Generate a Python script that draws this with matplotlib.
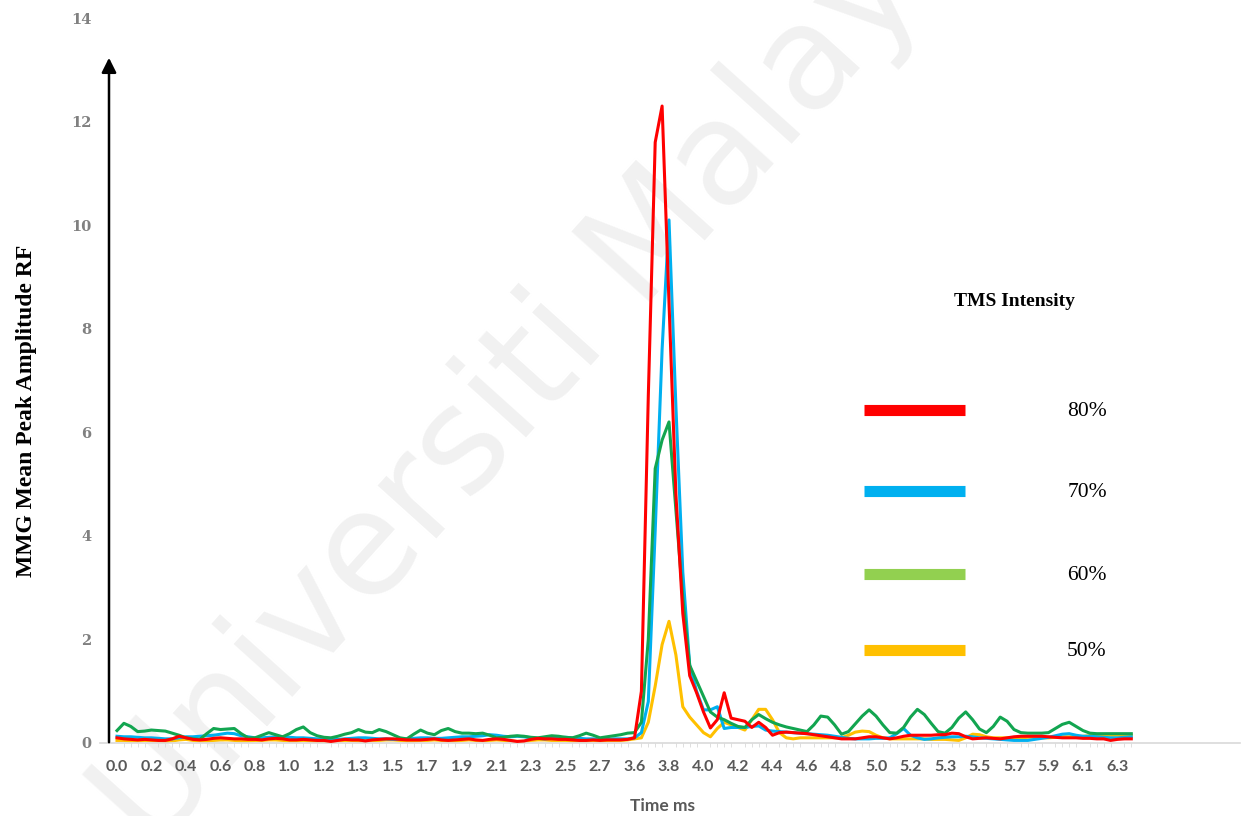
import numpy as np
import matplotlib
matplotlib.use('Agg')
import matplotlib.pyplot as plt
from matplotlib.lines import Line2D

# Tick labels as printed under the axis (one label every 5 samples)
tick_labels = ['0.0', '0.2', '0.4', '0.6', '0.8', '1.0', '1.2', '1.3', '1.5', '1.7',
               '1.9', '2.1', '2.3', '2.5', '2.7', '3.6', '3.8', '4.0', '4.2', '4.4',
               '4.6', '4.8', '5.0', '5.2', '5.3', '5.5', '5.7', '5.9', '6.1', '6.3']
label_step = 5

# MMG mean peak amplitude, 148 samples per TMS intensity
amp_80 = [0.10, 0.08, 0.07, 0.06, 0.07, 0.06, 0.05, 0.05, 0.08, 0.13,
          0.10, 0.07, 0.06, 0.07, 0.09, 0.10, 0.09, 0.08, 0.08, 0.07,
          0.07, 0.06, 0.08, 0.09, 0.08, 0.06, 0.06, 0.07, 0.06, 0.05,
          0.05, 0.03, 0.05, 0.07, 0.06, 0.06, 0.04, 0.06, 0.07, 0.08,
          0.08, 0.07, 0.06, 0.06, 0.06, 0.07, 0.08, 0.06, 0.05, 0.06,
          0.07, 0.08, 0.06, 0.05, 0.07, 0.08, 0.07, 0.05, 0.03, 0.04,
          0.07, 0.09, 0.08, 0.08, 0.07, 0.07, 0.06, 0.05, 0.05, 0.06,
          0.05, 0.06, 0.06, 0.06, 0.07, 0.10, 1.00, 6.70, 11.60, 12.30,
          8.50, 4.80, 2.50, 1.30, 0.97, 0.60, 0.29, 0.45, 0.97, 0.48,
          0.45, 0.42, 0.30, 0.40, 0.30, 0.15, 0.20, 0.21, 0.20, 0.19,
          0.18, 0.16, 0.14, 0.12, 0.10, 0.08, 0.08, 0.08, 0.10, 0.12,
          0.12, 0.10, 0.08, 0.10, 0.13, 0.15, 0.15, 0.15, 0.15, 0.16,
          0.16, 0.19, 0.18, 0.12, 0.08, 0.09, 0.10, 0.09, 0.08, 0.10,
          0.12, 0.13, 0.13, 0.13, 0.13, 0.12, 0.11, 0.10, 0.10, 0.10,
          0.09, 0.09, 0.08, 0.08, 0.05, 0.07, 0.08, 0.08]

amp_70 = [0.13, 0.12, 0.12, 0.11, 0.10, 0.10, 0.09, 0.08, 0.08, 0.10,
          0.12, 0.12, 0.13, 0.14, 0.15, 0.17, 0.19, 0.18, 0.14, 0.12,
          0.10, 0.10, 0.11, 0.12, 0.12, 0.11, 0.10, 0.10, 0.09, 0.08,
          0.08, 0.07, 0.07, 0.08, 0.09, 0.10, 0.10, 0.09, 0.08, 0.08,
          0.07, 0.07, 0.08, 0.09, 0.10, 0.10, 0.09, 0.09, 0.10, 0.11,
          0.12, 0.12, 0.13, 0.14, 0.16, 0.15, 0.13, 0.12, 0.13, 0.12,
          0.10, 0.09, 0.08, 0.09, 0.10, 0.11, 0.10, 0.09, 0.08, 0.08,
          0.07, 0.07, 0.08, 0.08, 0.08, 0.10, 0.20, 0.80, 4.10, 7.60,
          10.10, 6.50, 3.30, 1.50, 1.00, 0.64, 0.64, 0.70, 0.28, 0.30,
          0.30, 0.30, 0.32, 0.33, 0.25, 0.23, 0.22, 0.21, 0.20, 0.19,
          0.18, 0.17, 0.16, 0.15, 0.13, 0.11, 0.09, 0.08, 0.08, 0.08,
          0.09, 0.09, 0.10, 0.18, 0.28, 0.15, 0.10, 0.07, 0.08, 0.10,
          0.11, 0.12, 0.12, 0.13, 0.12, 0.10, 0.09, 0.08, 0.07, 0.06,
          0.05, 0.05, 0.05, 0.07, 0.09, 0.11, 0.14, 0.17, 0.18, 0.15,
          0.13, 0.13, 0.12, 0.11, 0.10, 0.10, 0.11, 0.12]

amp_60 = [0.24, 0.38, 0.32, 0.22, 0.23, 0.25, 0.24, 0.23, 0.19, 0.15,
          0.10, 0.08, 0.07, 0.18, 0.28, 0.26, 0.27, 0.28, 0.18, 0.10,
          0.10, 0.15, 0.20, 0.16, 0.12, 0.18, 0.26, 0.31, 0.20, 0.14,
          0.11, 0.10, 0.13, 0.17, 0.20, 0.26, 0.21, 0.20, 0.26, 0.22,
          0.16, 0.10, 0.08, 0.17, 0.25, 0.19, 0.16, 0.24, 0.28, 0.22,
          0.19, 0.19, 0.18, 0.19, 0.15, 0.10, 0.11, 0.13, 0.14, 0.13,
          0.11, 0.10, 0.12, 0.14, 0.13, 0.11, 0.10, 0.14, 0.19, 0.15,
          0.10, 0.12, 0.14, 0.16, 0.19, 0.20, 0.40, 2.00, 5.30, 5.85,
          6.20, 4.50, 2.80, 1.50, 1.20, 0.90, 0.60, 0.50, 0.45, 0.38,
          0.32, 0.30, 0.45, 0.55, 0.47, 0.40, 0.35, 0.31, 0.28, 0.25,
          0.22, 0.35, 0.52, 0.50, 0.35, 0.17, 0.22, 0.37, 0.52, 0.64,
          0.52, 0.35, 0.20, 0.19, 0.30, 0.50, 0.65, 0.55, 0.38, 0.22,
          0.19, 0.30, 0.48, 0.60, 0.45, 0.27, 0.20, 0.32, 0.50, 0.42,
          0.26, 0.20, 0.19, 0.19, 0.19, 0.20, 0.28, 0.36, 0.40, 0.32,
          0.24, 0.19, 0.18, 0.18, 0.18, 0.18, 0.18, 0.18]

amp_50 = [0.05, 0.05, 0.04, 0.04, 0.05, 0.05, 0.04, 0.03, 0.04, 0.06,
          0.07, 0.05, 0.04, 0.04, 0.05, 0.06, 0.06, 0.05, 0.04, 0.04,
          0.05, 0.05, 0.06, 0.06, 0.05, 0.04, 0.04, 0.05, 0.04, 0.03,
          0.03, 0.03, 0.04, 0.05, 0.05, 0.04, 0.04, 0.05, 0.05, 0.06,
          0.06, 0.05, 0.04, 0.04, 0.05, 0.05, 0.06, 0.05, 0.04, 0.04,
          0.05, 0.06, 0.05, 0.04, 0.05, 0.06, 0.05, 0.04, 0.03, 0.03,
          0.05, 0.06, 0.06, 0.05, 0.05, 0.05, 0.04, 0.04, 0.04, 0.05,
          0.04, 0.05, 0.05, 0.05, 0.06, 0.08, 0.10, 0.40, 1.10, 1.90,
          2.35, 1.70, 0.70, 0.50, 0.35, 0.20, 0.12, 0.28, 0.40, 0.35,
          0.30, 0.25, 0.45, 0.65, 0.65, 0.45, 0.20, 0.10, 0.08, 0.10,
          0.10, 0.10, 0.10, 0.10, 0.10, 0.10, 0.15, 0.21, 0.23, 0.22,
          0.15, 0.10, 0.08, 0.08, 0.08, 0.08, 0.08, 0.08, 0.07, 0.07,
          0.07, 0.06, 0.05, 0.10, 0.17, 0.16, 0.12, 0.10, 0.10, 0.10,
          0.10, 0.10, 0.11, 0.11, 0.10, 0.10, 0.11, 0.12, 0.12, 0.12,
          0.13, 0.14, 0.15, 0.15, 0.15, 0.15, 0.15, 0.15]

series = [('50%', amp_50, '#FFC000', '#FFC000'),
          ('70%', amp_70, '#00B0F0', '#00B0F0'),
          ('60%', amp_60, '#12A550', '#92D050'),
          ('80%', amp_80, '#FF0000', '#FF0000')]
legend_order = ['80%', '70%', '60%', '50%']

W, H = 1243, 816


def px(x, y):
    # pixel position in the figure -> figure fraction
    return x / W, 1 - y / H


fig = plt.figure(figsize=(W / 100, H / 100), dpi=100)
fig.patch.set_facecolor('white')

# faint watermark behind everything
fig.text(*px(540, 365), 'Universiti Malaya', rotation=48, fontsize=104,
         color='#f1f1f1', ha='center', va='center', family='DejaVu Sans', zorder=-5)

ax = fig.add_axes([100 / W, (H - 743) / H, 1140 / W, 725 / H])
ax.patch.set_alpha(0)

n = len(amp_80)
x = np.arange(n)
for i, (name, vals, col, _) in enumerate(series):
    ax.plot(x, vals, color=col, lw=2.2, zorder=2 + i, solid_joinstyle='round')

step_px = 6.9
ax.set_xlim(-17 / step_px, 1123 / step_px)
ax.set_ylim(0, 14)

ax.set_xticks(np.arange(0, len(tick_labels) * label_step, label_step))
ax.set_xticklabels(tick_labels)
ax.set_xticks(x, minor=True)
ax.set_yticks(np.arange(0, 15, 2))
for lab in ax.get_xticklabels():
    lab.set_fontfamily('Lato')
    lab.set_fontweight('bold')
    lab.set_fontsize(11.5)
    lab.set_color('#595959')
for lab in ax.get_yticklabels():
    lab.set_fontfamily('DejaVu Serif')
    lab.set_fontweight('bold')
    lab.set_fontsize(10.5)
    lab.set_color('#808080')
ax.tick_params(axis='x', which='major', length=0, pad=12)
ax.tick_params(axis='x', which='minor', length=3, color='#d9d9d9')
ax.tick_params(axis='y', length=0, pad=6)

for s in ['top', 'right', 'left']:
    ax.spines[s].set_visible(False)
ax.spines['bottom'].set_color('#d9d9d9')
ax.spines['bottom'].set_linewidth(1.2)

# black y axis arrow
ax.annotate('', xy=px(109, 55), xytext=px(109, 745), xycoords='figure fraction',
            textcoords='figure fraction',
            arrowprops=dict(arrowstyle='-|>', color='black', lw=1.8, mutation_scale=22))

fig.text(*px(27, 411), 'MMG Mean Peak Amplitude RF', rotation=90, ha='center', va='center',
         family='Liberation Serif', fontweight='bold', fontsize=17)
fig.text(*px(662, 806), 'Time ms', ha='center', va='center',
         family='Lato', fontweight='bold', fontsize=12.5, color='#595959')

# hand-placed legend
fig.text(*px(1014, 302), 'TMS Intensity', ha='center', va='center',
         family='Liberation Serif', fontweight='bold', fontsize=14)
legend_y = [410, 491, 574, 650]
legend_col = {name: lcol for name, _, _, lcol in series}
for name, ly in zip(legend_order, legend_y):
    x0, y0 = px(864, ly)
    x1, _ = px(965, ly)
    fig.add_artist(Line2D([x0, x1], [y0, y0], color=legend_col[name], lw=8,
                          solid_capstyle='butt', transform=fig.transFigure))
    fig.text(*px(1087, ly + 2), name, ha='center', va='center',
             family='Liberation Serif', fontsize=15.5)

fig.savefig('out.png', dpi=100)
